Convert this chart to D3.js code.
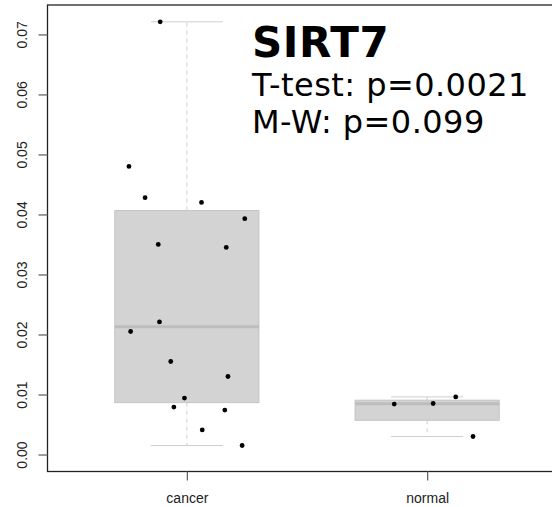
<!DOCTYPE html>
<html>
<head>
<meta charset="utf-8">
<script src="https://cdn.jsdelivr.net/npm/d3@7"></script>
<style>
  html, body { margin: 0; padding: 0; background: #fff; overflow: hidden; }
  svg { display: block; }
</style>
</head>
<body>
<div id="chart"></div>
<script>
// values
const categories = ['cancer', 'normal'];
const cancerValues = [0.0721, 0.0480, 0.0428, 0.0420, 0.0393, 0.0350, 0.0345, 0.0221,
  0.0205, 0.0155, 0.0130, 0.0094, 0.0079, 0.0074, 0.0041, 0.0015];
// horizontal jitter, in category units
const cancerJitter = [-0.111, -0.241, -0.174, 0.061, 0.241, -0.119, 0.164, -0.114,
  -0.234, -0.067, 0.171, -0.010, -0.054, 0.158, 0.064, 0.230];
const normalValues = [0.0096, 0.0085, 0.0084, 0.0030];
const normalJitter = [0.119, 0.025, -0.137, 0.191];
const yTicks = [0, 0.01, 0.02, 0.03, 0.04, 0.05, 0.06, 0.07];
const titleText = 'SIRT7';
const statLines = ['T-test: p=0.0021', 'M-W: p=0.099'];

const width = 552, height = 507;
const plot = { left: 47.5, top: 5, right: 566.5, bottom: 471.5 };

const svg = d3.select('#chart').append('svg')
  .attr('width', width)
  .attr('height', height);

const x = d3.scaleLinear().domain([0.42, 2.58]).range([plot.left, plot.right]);
const y = d3.scaleLinear().domain([-0.00283, 0.0749]).range([plot.bottom, plot.top]);

// R-style fivenum (Tukey hinges)
function fivenum(values) {
  const s = values.slice().sort(d3.ascending);
  const n = s.length;
  const n4 = Math.floor((n + 3) / 2) / 2;
  const d = [1, n4, (n + 1) / 2, n + 1 - n4, n];
  return d.map(k => 0.5 * (s[Math.floor(k) - 1] + s[Math.ceil(k) - 1]));
}

const groups = [
  { name: categories[0], pos: 1, values: cancerValues, jitter: cancerJitter },
  { name: categories[1], pos: 2, values: normalValues, jitter: normalJitter }
];

groups.forEach(g => {
  const f = fivenum(g.values);
  const iqr = f[3] - f[1];
  const inside = g.values.filter(v => v >= f[1] - 1.5 * iqr && v <= f[3] + 1.5 * iqr);
  g.q1 = f[1]; g.med = f[2]; g.q3 = f[3];
  g.lo = d3.min(inside); g.hi = d3.max(inside);
});

const boxHalf = 0.3, capHalf = 0.15;
const boxes = svg.append('g').attr('class', 'boxes');

groups.forEach(g => {
  const bg = boxes.append('g');
  // whiskers
  [[g.q3, g.hi], [g.q1, g.lo]].forEach(([a, b]) => {
    bg.append('line')
      .attr('x1', x(g.pos)).attr('x2', x(g.pos))
      .attr('y1', y(a)).attr('y2', y(b))
      .attr('stroke', '#cfcfcf')
      .attr('stroke-width', 1)
      .attr('stroke-dasharray', '4,4');
    bg.append('line')
      .attr('x1', x(g.pos - capHalf)).attr('x2', x(g.pos + capHalf))
      .attr('y1', y(b)).attr('y2', y(b))
      .attr('stroke', '#cfcfcf')
      .attr('stroke-width', 1);
  });
  bg.append('rect')
    .attr('x', x(g.pos - boxHalf))
    .attr('y', y(g.q3))
    .attr('width', x(g.pos + boxHalf) - x(g.pos - boxHalf))
    .attr('height', y(g.q1) - y(g.q3))
    .attr('fill', '#d3d3d3')
    .attr('stroke', '#c4c4c4')
    .attr('stroke-width', 1);
  bg.append('line')
    .attr('x1', x(g.pos - boxHalf)).attr('x2', x(g.pos + boxHalf))
    .attr('y1', y(g.med)).attr('y2', y(g.med))
    .attr('stroke', '#bdbdbd')
    .attr('stroke-width', 3);
});

// jittered points
groups.forEach(g => {
  svg.append('g').selectAll('circle')
    .data(g.values)
    .join('circle')
    .attr('cx', (d, i) => x(g.pos + g.jitter[i]))
    .attr('cy', d => y(d))
    .attr('r', 2.4)
    .attr('fill', '#000');
});

// frame
svg.append('rect')
  .attr('x', plot.left).attr('y', plot.top)
  .attr('width', plot.right - plot.left)
  .attr('height', plot.bottom - plot.top)
  .attr('fill', 'none')
  .attr('stroke', '#222')
  .attr('stroke-width', 1.3);

// y axis
const yAxis = svg.append('g')
  .attr('transform', `translate(${plot.left},0)`)
  .call(d3.axisLeft(y).tickValues(yTicks).tickFormat(d3.format('.2f')).tickSize(9).tickPadding(0));
yAxis.select('.domain').remove();
yAxis.selectAll('.tick line').attr('stroke', '#666').attr('stroke-width', 1.3);
yAxis.selectAll('.tick text')
  .attr('transform', 'rotate(-90)')
  .attr('x', 0).attr('y', -21)
  .attr('dy', 0)
  .attr('text-anchor', 'middle')
  .attr('fill', '#222')
  .style('font-family', '"Liberation Sans", Arial, sans-serif')
  .style('font-size', '14px');

// x axis
const xAxis = svg.append('g')
  .attr('transform', `translate(0,${plot.bottom})`)
  .call(d3.axisBottom(x).tickValues(groups.map(g => g.pos))
    .tickFormat((d, i) => categories[i]).tickSize(9).tickPadding(0));
xAxis.select('.domain').remove();
xAxis.selectAll('.tick line').attr('stroke', '#666').attr('stroke-width', 1.3);
xAxis.selectAll('.tick text')
  .attr('y', 31.5).attr('dy', 0)
  .attr('fill', '#222')
  .style('font-family', '"Liberation Sans", Arial, sans-serif')
  .style('font-size', '14px');

// title + stats
svg.append('text')
  .attr('x', 252).attr('y', 56.5)
  .style('font-family', '"DejaVu Sans", Verdana, sans-serif')
  .style('font-weight', 'bold')
  .style('font-size', '42px')
  .style('letter-spacing', '0.6px')
  .attr('fill', '#000')
  .text(titleText);

svg.selectAll('.stat')
  .data(statLines)
  .join('text')
  .attr('class', 'stat')
  .attr('x', 252)
  .attr('y', (d, i) => 96 + i * 37)
  .style('font-family', '"DejaVu Sans", Verdana, sans-serif')
  .style('font-size', '32px')
  .style('letter-spacing', '0.45px')
  .attr('fill', '#000')
  .text(d => d);
</script>
</body>
</html>
